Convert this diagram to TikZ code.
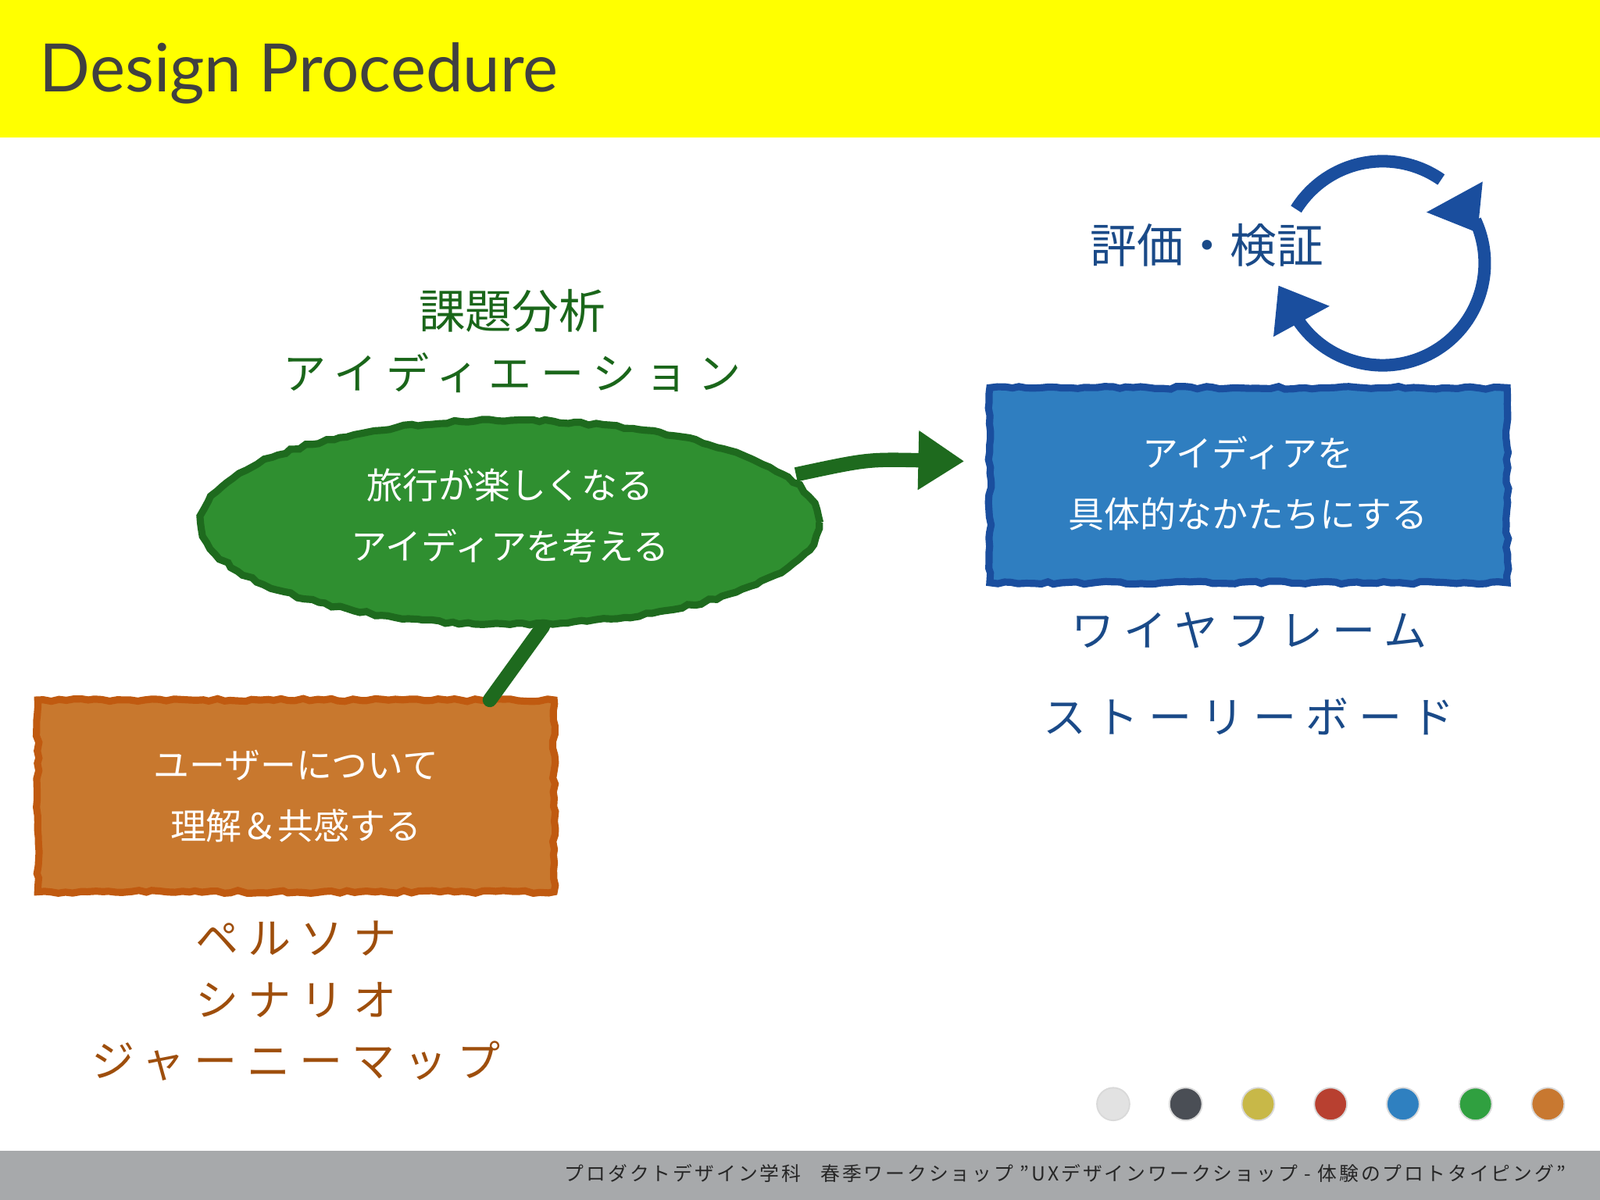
\documentclass[tikz,border=0pt]{standalone}
\usepackage{fontspec}
\setmainfont{Noto Sans CJK JP}
\newfontfamily\latin{Lato}
\newfontfamily\spaced[LetterSpace=22]{Noto Sans CJK JP}
\newfontfamily\footfont[LetterSpace=12]{Noto Sans CJK JP}
\usetikzlibrary{arrows.meta,decorations.pathmorphing,calc}
\definecolor{ylw}{HTML}{FFFF00}
\definecolor{grnfill}{HTML}{2F8F30}
\definecolor{grnline}{HTML}{1E6A1E}
\definecolor{grntxt}{HTML}{1A661A}
\definecolor{orgfill}{HTML}{C8782E}
\definecolor{orgline}{HTML}{C05A10}
\definecolor{brn}{HTML}{9E4E0C}
\definecolor{blufill}{HTML}{2F7EC0}
\definecolor{bluline}{HTML}{1A4E9E}
\definecolor{blutxt}{HTML}{1A4A88}
\definecolor{foot}{HTML}{A7A9AB}
\tikzset{
  rough/.style={decorate,decoration={random steps,segment length=2pt,amplitude=0.4pt}},
  boxtxt/.style={text=white,align=center,font=\fontsize{10}{17}\selectfont},
  lbl/.style={font=\fontsize{12}{14}\spaced},
  dot/.style={circle,minimum size=0.32cm,inner sep=0pt}
}
\begin{document}
\begin{tikzpicture}[x=0.01cm,y=-0.01cm]
\useasboundingbox (0,0) rectangle (1568,1176);
\fill[white] (0,0) rectangle (1568,1176);
\fill[ylw] (0,0) rectangle (1568,135);
\fill[foot] (0,1128) rectangle (1568,1176);
\node[anchor=base west,inner sep=0pt,text=black!75,font=\fontsize{18.6}{22}\latin] (title) at (38,90) {Design Procedure};
% green ellipse
\draw[grnline,line width=2pt,fill=grnfill,rough] (500,512) ellipse [x radius=303,y radius=100];
\node[boxtxt] (idea) at (500,505) {旅行が楽しくなる\\アイディアを考える};
\coordinate (eb) at (532,614);
\coordinate (ea) at (780,465);
% orange box
\draw[orgline,line width=2pt,fill=orgfill,rough] (37,686) rectangle (543,874);
\node[boxtxt] (user) at (290,780) {ユーザーについて\\理解＆共感する};
\coordinate (ot) at (480,686);
\draw[grnline,line width=4pt,line cap=round] (eb) -- (ot);
% blue box
\draw[bluline,line width=2pt,fill=blufill,rough] (970,380) rectangle (1477,571);
\node[boxtxt] (make) at (1223,474) {アイディアを\\具体的なかたちにする};
\coordinate (bt) at (945,452);
\draw[grnline,line width=4pt,-{Triangle[length=0.45cm,width=0.55cm]}] (ea) .. controls (850,450) .. (bt);
% labels
\node[font=\fontsize{13}{15}\selectfont,text=grntxt] (kadai) at (502,305) {課題分析};
\node[lbl,text=grntxt] (ideation) at (502,365) {アイディエーション};
\node[font=\fontsize{13}{15}\selectfont,text=blutxt] (hyoka) at (1183,240) {評価・検証};
\node[lbl,text=blutxt] (wire) at (1224,618) {ワイヤフレーム};
\node[lbl,text=blutxt] (story) at (1224,702) {ストーリーボード};
\node[lbl,text=brn] (p1) at (290,920) {ペルソナ};
\node[lbl,text=brn] (p2) at (290,980) {シナリオ};
\node[lbl,text=brn] (p3) at (290,1040) {ジャーニーマップ};
% cycle arrows
\coordinate (cc) at (1355,258);
\draw[bluline,line width=3.5pt] ($(cc)+(-25:100)$) arc[start angle=-25,end angle=150,radius=100];
\draw[bluline,line width=3.5pt] ($(cc)+(212:100)$) arc[start angle=212,end angle=305,radius=100];
\fill[bluline] (1398,208) -- (1453,178) -- (1448,228) -- cycle;
\fill[bluline] (1303,300) -- (1248,330) -- (1253,280) -- cycle;
% dots
\foreach \x/\c [count=\i] in {1091/E2E2E2,1162/4A4E55,1233/C8B848,1304/B84030,1375/2F80C0,1446/30A040,1517/C87830}{
  \definecolor{dc}{HTML}{\c}
  \node[dot,fill=dc,draw=black!15] (d\i) at (\x,1082) {};
}
\node[anchor=base east,inner sep=0pt,text=black!85,font=\fontsize{5.4}{6}\footfont] (footer) at (1535,1157) {プロダクトデザイン学科\quad 春季ワークショップ ”UXデザインワークショップ - 体験のプロトタイピング”};
\end{tikzpicture}
\end{document}
